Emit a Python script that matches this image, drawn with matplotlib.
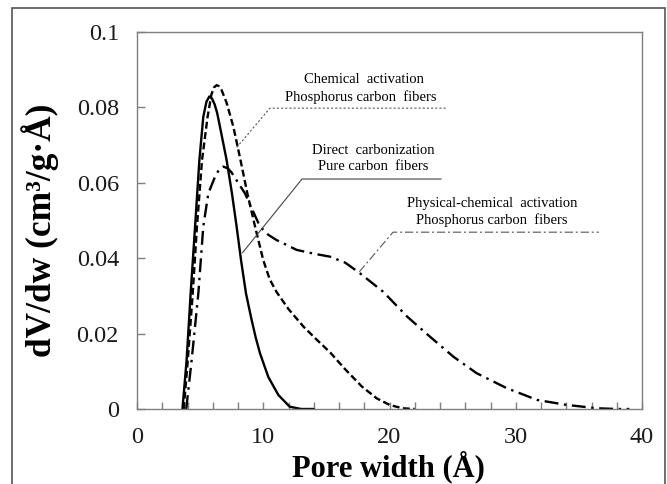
import matplotlib
matplotlib.use("Agg")
import matplotlib.pyplot as plt
from matplotlib.patches import Rectangle

plt.rcParams['font.family'] = ['Liberation Serif', 'DejaVu Serif']
plt.rcParams['lines.scale_dashes'] = False

# Direct carbonization - Pure carbon fibers (solid)
x_direct = [3.6, 3.93, 4.25, 4.6, 4.94, 5.25, 5.5, 5.73, 5.95, 6.15, 6.35, 6.57, 7.1,
            7.52, 7.89, 8.24, 8.63, 9.08, 9.4, 9.74, 10.4, 11.2, 12.1, 13.0, 14.0]
y_direct = [0.0, 0.013, 0.0307, 0.0484, 0.066, 0.0775, 0.0815, 0.0829, 0.0823, 0.0808,
            0.0785, 0.0749, 0.066, 0.0572, 0.0484, 0.0395, 0.0307, 0.0236, 0.019, 0.0148,
            0.0085, 0.0037, 0.0006, 0.0, 0.0]

# Chemical activation - Phosphorus carbon fibers (dashed)
x_chem = [3.7, 4.0, 4.4, 4.75, 5.15, 5.59, 5.9, 6.1, 6.31, 6.5, 6.7, 7.1, 7.63, 8.2,
          8.74, 9.35, 10.0, 10.5, 11.06, 12.0, 13.2, 14.2, 15.3, 16.5, 17.8, 19.0, 20.0,
          21.0, 22.0]
y_chem = [0.0, 0.012, 0.03, 0.0484, 0.066, 0.0775, 0.0835, 0.0853, 0.0859, 0.0856,
          0.0846, 0.0812, 0.0749, 0.066, 0.0572, 0.0484, 0.0395, 0.0345, 0.031, 0.0265,
          0.0218, 0.0185, 0.015, 0.0105, 0.006, 0.0028, 0.0011, 0.0002, 0.0]

# Physical-chemical activation - Phosphorus carbon fibers (dash-dot)
x_phys = [3.9, 4.33, 4.86, 5.25, 5.65, 6.18, 6.5, 6.84, 7.2, 7.5, 8.55, 9.74, 10.4,
          11.06, 12.65, 14.0, 15.3, 16.5, 17.66, 19.5, 21.4, 23.2, 25.05, 26.9, 29.3,
          31.7, 34.0, 36.4, 38.0, 39.0]
y_phys = [0.0, 0.013, 0.0307, 0.0484, 0.0572, 0.0616, 0.0635, 0.0643, 0.0638, 0.0627,
          0.0572, 0.0484, 0.0462, 0.0448, 0.0422, 0.0412, 0.0404, 0.0388, 0.036, 0.0311,
          0.0245, 0.0192, 0.0139, 0.0095, 0.0055, 0.0024, 0.0011, 0.0002, 0.0, 0.0]

x_ticks = [0, 10, 20, 30, 40]
y_ticks = [0, 0.02, 0.04, 0.06, 0.08, 0.1]
y_ticklabels = ['0', '0.02', '0.04', '0.06', '0.08', '0.1']

fig = plt.figure(figsize=(6.67, 4.84), dpi=100)
W, H = 667, 484
ax = fig.add_axes([137 / W, 1 - 409 / H, (642 - 137) / W, (409 - 32) / H])

# outer frame
fig.patches.append(Rectangle((12 / W, -0.1), (665 - 12) / W, 1.1 - 8 / H,
                             transform=fig.transFigure, fill=False,
                             edgecolor='#555555', lw=1.2))

lw = 1.7
ax.plot(x_direct, y_direct, color='black', lw=lw, solid_capstyle='round',
        solid_joinstyle='round')
l2, = ax.plot(x_chem, y_chem, color='black', lw=lw)
l2.set_dashes((5, 2.5))
l3, = ax.plot(x_phys, y_phys, color='black', lw=lw)
l3.set_dashes((10, 4, 1.8, 4))

ax.set_xlim(0, 40)
ax.set_ylim(0, 0.1)
ax.set_xticks(x_ticks)
ax.set_xticks(list(range(0, 41, 2)), minor=True)
ax.set_yticks(y_ticks)
ax.set_yticklabels(y_ticklabels)
ax.tick_params(axis='both', which='both', direction='in', colors='#7f7f7f',
               labelcolor='#1a1a1a', labelsize=17.5, pad=13)
ax.tick_params(axis='x', which='both', length=5, width=1)
ax.tick_params(axis='y', which='major', length=6, width=1)
for s in ax.spines.values():
    s.set_color('#7f7f7f')
    s.set_linewidth(1.0)

fig.text(388 / W, 1 - 467 / H, 'Pore width (Å)', ha='center', va='center',
         fontsize=22, fontweight='bold')
fig.text(40 / W, 1 - 230 / H, 'dV/dw (cm³/g·Å)', ha='center', va='center',
         rotation=90, fontsize=25.5, fontweight='bold')

tfs = 10.5
# Chemical activation annotation
ax.text(18.0, 0.0873, 'Chemical  activation', ha='center', va='center', fontsize=tfs)
ax.text(17.7, 0.0826, 'Phosphorus carbon  fibers', ha='center', va='center', fontsize=tfs)
ax.plot([7.90, 10.53, 24.48], [0.0694, 0.0798, 0.0798], color='#555555', lw=0.8,
        linestyle=(0, (1.5, 1.5)))

# Direct carbonization annotation
ax.text(18.7, 0.0687, 'Direct  carbonization', ha='center', va='center', fontsize=tfs)
ax.text(18.7, 0.0642, 'Pure carbon  fibers', ha='center', va='center', fontsize=tfs)
ax.plot([8.37, 13.07, 24.08], [0.0415, 0.0610, 0.0610], color='#444444', lw=0.8)

# Physical-chemical activation annotation
ax.text(28.1, 0.0546, 'Physical-chemical  activation', ha='center', va='center', fontsize=tfs)
ax.text(28.1, 0.0501, 'Phosphorus carbon  fibers', ha='center', va='center', fontsize=tfs)
ax.plot([17.61, 20.28, 36.59], [0.0364, 0.0469, 0.0469], color='#555555', lw=0.8,
        linestyle=(0, (6, 2, 1.5, 2)))

fig.savefig('out.png', dpi=100)
